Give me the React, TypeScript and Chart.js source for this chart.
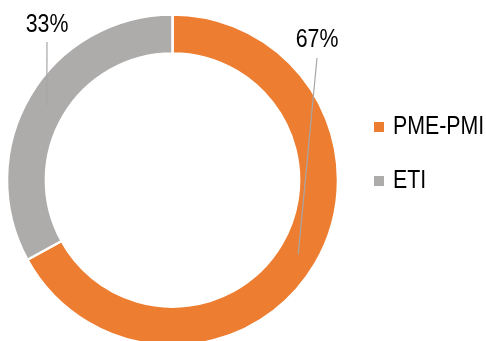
import React, { useEffect, useRef } from "react";
import { Chart, registerables } from "chart.js";

Chart.register(...registerables);

const categories = ["PME-PMI", "ETI"];
const shares = [67, 33];
const percentLabels = ["67%", "33%"];
const colors = ["#ED7D31", "#AEABAB"];

const FONT = '"Liberation Sans", Arial, sans-serif';
const NARROW = 0.82;

// label anchor positions (text centre) and leader-line start, per slice
const labelAnchors = [
  { x: 317, y: 39, lineY: 58 },
  { x: 47, y: 24, lineY: 42 },
];

function narrowText(ctx: any, text: string, x: number, y: number, align: string) {
  ctx.save();
  ctx.translate(x, y);
  ctx.scale(NARROW, 1);
  ctx.textAlign = align;
  ctx.textBaseline = "middle";
  ctx.fillText(text, 0, 0);
  ctx.restore();
}

const overlayPlugin = {
  id: "overlay",
  afterDatasetsDraw(chart: any) {
    const ctx = chart.ctx;
    const meta = chart.getDatasetMeta(0);
    ctx.save();
    meta.data.forEach((arc: any, i: number) => {
      const c = arc.getCenterPoint();
      const a = labelAnchors[i];
      ctx.strokeStyle = "#A6A6A6";
      ctx.lineWidth = 1.2;
      ctx.beginPath();
      ctx.moveTo(a.x, a.lineY);
      ctx.lineTo(c.x, c.y);
      ctx.stroke();
      ctx.fillStyle = "#000";
      ctx.font = `26px ${FONT}`;
      narrowText(ctx, percentLabels[i], a.x, a.y + 1, "center");
    });
    // legend
    const legendY = [127, 181];
    categories.forEach((cat, i) => {
      ctx.fillStyle = colors[i];
      ctx.fillRect(374, legendY[i] - 5, 10, 10);
      ctx.fillStyle = "#000";
      ctx.font = `26px ${FONT}`;
      narrowText(ctx, cat, 393, legendY[i], "left");
    });
    ctx.restore();
  },
};

export default function App() {
  const ref = useRef<HTMLCanvasElement | null>(null);
  useEffect(() => {
    document.body.style.margin = "0";
    const chart = new Chart(ref.current as HTMLCanvasElement, {
      type: "doughnut",
      data: {
        labels: categories,
        datasets: [
          {
            data: shares,
            backgroundColor: colors,
            borderColor: "#ffffff",
            borderWidth: 2.5,
            clip: false,
          } as any,
        ],
      },
      options: {
        responsive: false,
        animation: false,
        radius: 165.5,
        cutout: "76.5%",
        layout: { padding: { left: 8, right: 149, top: 19, bottom: 0 } },
        plugins: {
          legend: { display: false },
          tooltip: { enabled: false },
        },
      } as any,
      plugins: [overlayPlugin],
    });
    return () => chart.destroy();
  }, []);
  return (
    <div style={{ width: 486, height: 341, overflow: "hidden" }}>
      <canvas ref={ref} width={486} height={341} style={{ display: "block" }} />
    </div>
  );
}
